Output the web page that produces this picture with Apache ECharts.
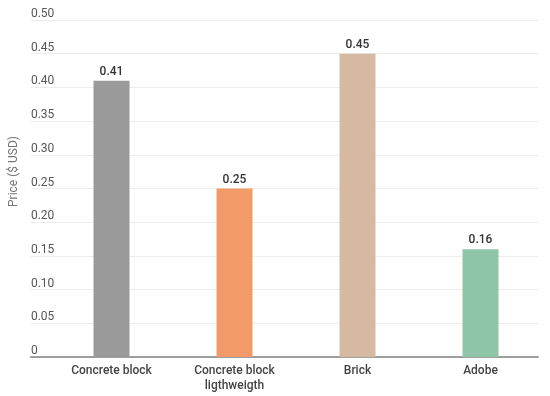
<!DOCTYPE html>
<html><head><meta charset="utf-8">
<script src="https://cdn.jsdelivr.net/npm/echarts@6/dist/echarts.min.js"></script>
<style>html,body{margin:0;padding:0;background:#fff}#c{width:550px;height:396px}</style>
</head><body><div id="c"></div>
<script>
const categories = ['Concrete block', 'Concrete block\nligthweigth', 'Brick', 'Adobe'];
const prices = [0.41, 0.25, 0.45, 0.16];
const barColors = ['#9a9a9a', '#f29b69', '#d5b9a0', '#8ec5a8'];
const yTicks = ['0', '0.05', '0.10', '0.15', '0.20', '0.25', '0.30', '0.35', '0.40', '0.45', '0.50'];

const chart = echarts.init(document.getElementById('c'));
const font = 'Roboto, sans-serif';
chart.setOption({
  animation: false,
  grid: [
    {left: 27, right: 12, top: 20, bottom: 39},
    {left: 50, right: 8, top: 20, bottom: 39}
  ],
  xAxis: [
    {gridIndex: 0, type: 'category', data: categories, axisLine: {lineStyle: {color: '#9e9e9e', width: 2}},
     axisTick: {show: false}, axisLabel: {show: false}},
    {gridIndex: 1, type: 'category', data: categories, axisLine: {show: false}, axisTick: {show: false},
     axisLabel: {color: '#444', fontFamily: font, fontSize: 12, fontWeight: 500, margin: 6, lineHeight: 15, interval: 0}}
  ],
  yAxis: [
    {gridIndex: 0, type: 'value', min: 0, max: 0.5, interval: 0.05,
     name: 'Price ($ USD)', nameLocation: 'middle', nameGap: 8,
     nameTextStyle: {color: '#777', fontFamily: font, fontSize: 12, padding: [0, 0, 0, 34]},
     axisLine: {show: false}, axisTick: {show: false},
     axisLabel: {inside: true, verticalAlign: 'bottom', margin: 0, padding: [0, 0, 0, 0], color: '#555', fontFamily: font, fontSize: 12,
       formatter: (v) => yTicks[Math.round(v / 0.05)]},
     splitLine: {lineStyle: {color: '#ececec', width: 1}}},
    {gridIndex: 1, type: 'value', min: 0, max: 0.5, interval: 0.05, show: false}
  ],
  series: [{
    type: 'bar', xAxisIndex: 1, yAxisIndex: 1, barWidth: 36,
    data: prices.map((v, i) => ({value: v, itemStyle: {color: barColors[i]}})),
    label: {show: true, position: 'top', distance: 3, color: '#333', fontFamily: font, fontSize: 12, fontWeight: 500,
      formatter: (p) => p.value.toFixed(2)}
  }]
});
</script></body></html>
